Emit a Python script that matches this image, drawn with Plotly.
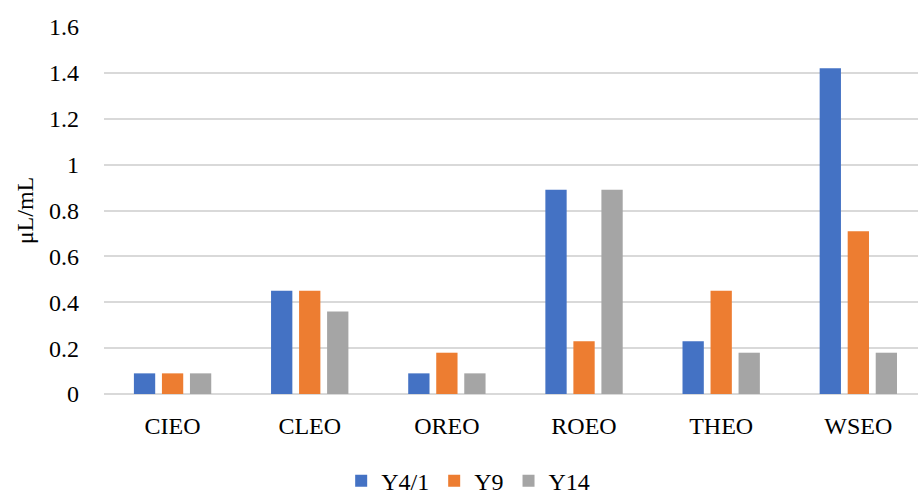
import plotly.graph_objects as go

categories = ["CIEO", "CLEO", "OREO", "ROEO", "THEO", "WSEO"]
y4_1 = [0.09, 0.45, 0.09, 0.89, 0.23, 1.42]
y9 = [0.09, 0.45, 0.18, 0.23, 0.45, 0.71]
y14 = [0.09, 0.36, 0.09, 0.89, 0.18, 0.18]
series_names = ["Y4/1", "Y9", "Y14"]
colors = ["#4472C4", "#ED7D31", "#A5A5A5"]
y_ticks = [0, 0.2, 0.4, 0.6, 0.8, 1, 1.2, 1.4, 1.6]

FONT = "Liberation Serif"
SIZE = 24

fig = go.Figure()
for name, vals, col in zip(series_names, [y4_1, y9, y14], colors):
    fig.add_trace(go.Bar(
        x=categories, y=vals, name=name,
        marker=dict(color=col, line=dict(width=0)),
    ))

fig.update_layout(
    width=918, height=496,
    margin=dict(l=104, r=0, t=27, b=102),
    paper_bgcolor="white", plot_bgcolor="white",
    barmode="group", bargap=0.387, bargroupgap=0.24,
    font=dict(family=FONT, size=SIZE, color="#000000"),
    showlegend=True,
    legend=dict(
        orientation="h", xref="container", yref="container",
        x=0.51, xanchor="center", y=0.03, yanchor="middle",
        font=dict(family=FONT, size=SIZE),
        itemwidth=30, tracegroupgap=0,
    ),
)
fig.update_xaxes(
    type="category", range=[-0.5, 5.435],
    showgrid=False, showline=False, zeroline=False,
    ticks="", ticklabelstandoff=15,
    tickfont=dict(family=FONT, size=SIZE),
)
fig.update_yaxes(
    range=[0, 1.6], tickvals=y_ticks,
    ticktext=[("%g" % v) for v in y_ticks],
    showgrid=True, gridcolor="#D9D9D9", gridwidth=1.5,
    zeroline=True, zerolinecolor="#D9D9D9", zerolinewidth=1.5,
    showline=False, ticks="", ticklabelstandoff=24,
    tickfont=dict(family=FONT, size=SIZE),
    title=dict(text="μL/mL", font=dict(family=FONT, size=SIZE), standoff=8),
)

fig.write_html("out.html")
